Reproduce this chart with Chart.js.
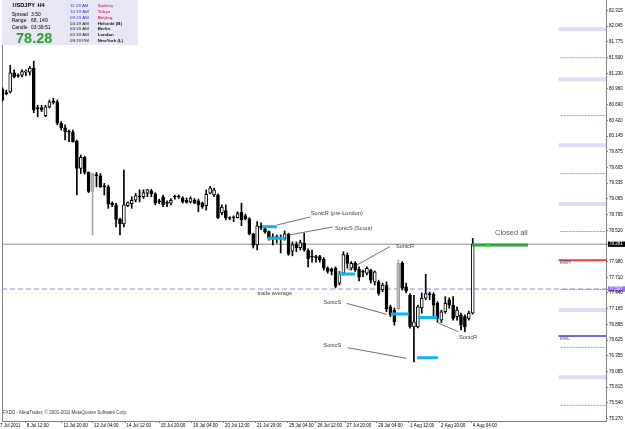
<!DOCTYPE html>
<html>
<head>
<meta charset="utf-8">
<script src="https://cdn.jsdelivr.net/npm/chart.js@4.4.1/dist/chart.umd.min.js"></script>
<style>
  html, body { margin: 0; padding: 0; background: #fff; }
  #wrap { width: 625px; height: 429px; position: relative; }
</style>
</head>
<body>
<div id="wrap"><canvas id="chart"></canvas></div>
<script>
// USDJPY H4 - bar index 0 = first visible candle

// x axis labels and the bar they sit on
const dateLabels = ['7 Jul 2011', '8 Jul 12:00', '11 Jul 20:00', '12 Jul 04:00', '14 Jul 12:00',
  '15 Jul 20:00', '19 Jul 04:00', '20 Jul 12:00', '21 Jul 20:00', '25 Jul 04:00', '26 Jul 12:00',
  '27 Jul 20:00', '29 Jul 04:00', '1 Aug 12:00', '2 Aug 20:00', '4 Aug 04:00'];
const dateBars = [-1, 5.8, 15.2, 23, 31.3, 40, 48.3, 56.4, 64.6, 72.8, 80, 87.5, 95.5, 103.6, 111.5, 119.6];

// price scale labels
const priceTicks = ['82.315', '82.045', '81.775', '81.500', '81.230', '80.960', '80.690', '80.420',
  '80.145', '79.875', '79.605', '79.335', '79.065', '78.795', '78.520', '78.281', '77.980', '77.710',
  '77.507', '77.440', '77.165', '76.895', '76.625', '76.355', '76.085', '75.815', '75.540', '75.270'];

const bidPrice = 78.281;
const avgPrice = 77.507;

// candles
const open = [
  80.96, 80.89, 80.91, 81.24, 81.19, 81.20, 81.25, 81.25, 81.32, 80.63,
  80.64, 80.50, 80.65, 80.74, 80.74, 80.37, 80.29, 80.225, 80.21, 80.06,
  79.59, 79.78, 79.52, 79.19, 79.475, 79.46, 79.28, 79.27, 78.99, 78.96,
  78.71, 78.63, 78.945, 78.98, 79.04, 79.10, 79.10, 79.16, 79.20, 79.15,
  79.02, 79.10, 78.99, 78.99, 79.10, 79.10, 79.08, 79.04, 79.01, 79.04,
  79.03, 78.99, 78.945, 79.16, 79.13, 79.13, 78.82, 78.86, 78.735, 78.745,
  78.74, 78.83, 78.77, 78.72, 78.46, 78.27, 78.60, 78.55, 78.50, 78.41,
  78.405, 78.40, 78.38, 78.45, 78.16, 78.28, 78.22, 78.30, 78.17, 78.07,
  78.06, 78.065, 78.02, 77.87, 77.85, 77.87, 77.61, 77.78, 78.09, 77.865,
  77.95, 77.85, 77.805, 77.78, 77.835, 77.63, 77.63, 77.49, 77.575, 77.20,
  77.145, 77.17, 77.95, 77.545, 77.40, 76.855, 76.855, 77.18, 77.35, 77.42,
  77.415, 77.26, 76.97, 77.115, 77.32, 77.23, 77.03, 77.06, 77.03, 77.00,
  77.09
];
const high = [
  80.98, 80.94, 81.37, 81.29, 81.22, 81.29, 81.29, 81.35, 81.44, 80.68,
  80.68, 80.68, 80.77, 80.80, 80.77, 80.40, 80.34, 80.25, 80.25, 80.08,
  79.82, 79.80, 79.53, 79.51, 79.52, 79.50, 79.33, 79.30, 79.01, 78.99,
  78.73, 79.56, 79.01, 79.10, 79.16, 79.22, 79.22, 79.23, 79.23, 79.17,
  79.06, 79.13, 79.03, 79.07, 79.13, 79.13, 79.10, 79.08, 79.10, 79.07,
  79.06, 79.01, 79.22, 79.28, 79.25, 79.15, 78.96, 78.96, 78.755, 78.77,
  78.84, 78.99, 78.80, 78.74, 78.47, 78.67, 78.65, 78.58, 78.51, 78.46,
  78.44, 78.44, 78.51, 78.47, 78.32, 78.32, 78.35, 78.47, 78.20, 78.18,
  78.09, 78.09, 78.05, 77.89, 77.87, 77.89, 77.81, 78.15, 78.13, 77.98,
  77.98, 77.89, 77.835, 77.89, 77.85, 77.82, 77.66, 77.61, 77.63, 77.23,
  77.18, 78.01, 77.98, 77.61, 77.43, 77.40, 77.23, 77.44, 77.76, 77.455,
  77.445, 77.29, 77.145, 77.375, 77.355, 77.375, 77.20, 77.09, 77.06, 77.125,
  78.38
];
const low = [
  80.75, 80.86, 80.89, 81.15, 81.16, 81.17, 81.19, 81.20, 80.55, 80.48,
  80.57, 80.48, 80.63, 80.70, 80.34, 80.25, 80.08, 80.05, 80.04, 79.13,
  79.50, 79.49, 79.17, 78.44, 79.27, 79.26, 79.13, 78.90, 78.93, 78.58,
  78.44, 78.58, 78.93, 78.90, 79.01, 79.01, 79.07, 79.10, 79.10, 78.96,
  78.98, 78.93, 78.93, 78.96, 79.06, 79.07, 78.99, 78.99, 78.99, 78.98,
  78.84, 78.90, 78.87, 79.15, 79.10, 78.72, 78.785, 78.70, 78.70, 78.67,
  78.73, 78.60, 78.70, 78.44, 78.215, 78.18, 78.53, 78.47, 78.35, 78.27,
  78.30, 78.13, 78.35, 78.09, 78.08, 78.15, 78.18, 78.16, 77.89, 77.97,
  77.97, 77.97, 77.835, 77.78, 77.75, 77.525, 77.575, 77.75, 77.865, 77.835,
  77.81, 77.645, 77.72, 77.75, 77.61, 77.575, 77.40, 77.46, 77.115, 77.03,
  76.885, 77.145, 77.49, 77.44, 76.83, 76.25, 76.835, 77.09, 77.32, 77.32,
  77.03, 76.94, 76.93, 77.09, 77.175, 76.97, 76.97, 76.80, 76.77, 76.97,
  77.075
];
const close = [
  80.77, 80.88, 81.24, 81.17, 81.18, 81.26, 81.26, 81.32, 80.60, 80.62,
  80.60, 80.65, 80.74, 80.73, 80.37, 80.29, 80.22, 80.215, 80.05, 79.59,
  79.78, 79.52, 79.19, 79.50, 79.465, 79.27, 79.27, 78.98, 78.96, 78.71,
  78.63, 78.96, 79.00, 79.04, 79.12, 79.095, 79.17, 79.22, 79.15, 78.99,
  79.01, 78.96, 78.985, 79.04, 79.095, 79.095, 79.01, 79.00, 79.07, 78.99,
  78.96, 78.93, 79.14, 79.25, 79.22, 78.74, 78.92, 78.74, 78.725, 78.735,
  78.81, 78.70, 78.72, 78.46, 78.26, 78.60, 78.56, 78.49, 78.38, 78.37,
  78.395, 78.37, 78.46, 78.11, 78.27, 78.22, 78.31, 78.18, 78.03, 78.06,
  78.05, 78.01, 77.87, 77.81, 77.81, 77.55, 77.78, 78.10, 77.95, 77.95,
  77.835, 77.71, 77.80, 77.865, 77.66, 77.805, 77.43, 77.575, 77.17, 77.06,
  76.94, 77.95, 77.52, 77.47, 76.86, 76.94, 77.20, 77.35, 77.43, 77.41,
  77.23, 77.00, 77.115, 77.26, 77.23, 77.00, 77.145, 76.885, 76.855, 77.09,
  78.28
];
const grayBars = [23, 101];

// levels on the right side
const pivotBlue = [81.99, 81.13, 79.99, 78.975, 77.145, 75.983];
const pivotGreen = [81.5, 80.5, 79.5, 78.5, 77.5, 76.5, 75.5];
const rwh = 78.005;
const rwl = 76.695;
const levelStart = 141.9;

// sonic entries: from bar, to bar, price
const sonicLevels = [
  [66.2, 70.0, 78.583], [67.7, 72.1, 78.383], [85.6, 89.95, 77.766],
  [99.1, 103.7, 77.077], [106.0, 110.9, 77.015], [105.8, 111.1, 76.321]
];
const closeLevel = [119.8, 134.1, 78.267];
const closeDot = [123.9, 78.267];

// pointer lines: bar1, price1, bar2, price2
const pointers = [
  [70.05, 78.612, 78.5, 78.750], [73.1, 78.440, 84.3, 78.578], [88.2, 77.835, 98.9, 78.241],
  [87.8, 77.260, 98.0, 77.071], [88.1, 76.494, 103.1, 76.311], [110.8, 76.932, 116.3, 76.770]
];

// text notes: text, bar, price
const notes = [
  ['SonicR (pre-London)', 78.7, 78.819], ['SonicS (Scout)', 84.85, 78.56], ['SonicR', 100.4, 78.241],
  ['SonicS', 81.9, 77.274], ['SonicS', 81.9, 76.532], ['SonicR', 116.5, 76.679],
  ['trade average', 65.1, 77.438]
];
const bigNote = ['Closed all', 125.7, 78.474];
const sideNotes = [['RWH', 142.2, 77.956], ['RWL', 142.2, 76.644]];

// info panel
const panelRows = [['Spread', '3.50'], ['Range', '68, 149'], ['Candle', '03:39:51']];
const zoneTimes = ['11:19 AM', '10:19 AM', '09:19 AM', '04:19 AM', '03:19 AM', '02:19 AM', '09:19 PM'];
const zoneNames = ['Sydney', 'Tokyo', 'Beijing', 'Helsinki (B)', 'Berlin', 'London', 'NewYork (L)'];

const X_MIN = -0.1, X_MAX = 154;
const Y_MIN = 75.229, Y_MAX = 82.496;
const FONT = '"Liberation Sans", Arial, sans-serif';

function seg(x1, y1, x2, y2, color, width, dash, order) {
  return {
    type: 'line',
    data: [{ x: x1, y: y1 }, { x: x2, y: y2 }],
    borderColor: color,
    borderWidth: width,
    borderDash: dash || [],
    pointRadius: 0,
    fill: false,
    order: order,
    yAxisID: 'y'
  };
}

const bars = open.map((o, i) => i);
const isUp = i => close[i] >= open[i];

const datasets = [];

// bodies
datasets.push({
  type: 'bar',
  data: bars.map(i => ({ x: i, y: [open[i], close[i]] })),
  backgroundColor: bars.map(i => grayBars.includes(i) ? '#bdbdbd' : (isUp(i) ? '#ffffff' : '#000000')),
  borderColor: bars.map(i => grayBars.includes(i) ? '#9a9a9a' : '#000000'),
  borderWidth: 1,
  borderSkipped: false,
  barThickness: 3,
  minBarLength: 1,
  grouped: false,
  order: 1,
  yAxisID: 'y'
});
// wicks
datasets.push({
  type: 'bar',
  data: bars.map(i => ({ x: i, y: [low[i], high[i]] })),
  backgroundColor: bars.map(i => grayBars.includes(i) ? '#a8a8a8' : '#000000'),
  borderWidth: 0,
  barThickness: 1,
  grouped: false,
  order: 2,
  yAxisID: 'y'
});

// bid and trade average
datasets.push(seg(X_MIN, bidPrice, X_MAX, bidPrice, '#8a8a8a', 1, [], 3));
datasets.push(seg(X_MIN, avgPrice, X_MAX, avgPrice, '#a07ce8', 1, [5, 3], 3));

// right side levels
pivotBlue.forEach(p => datasets.push(seg(levelStart, p, X_MAX, p, '#dcdcf4', 4, [], 4)));
pivotGreen.forEach(p => datasets.push(seg(levelStart + 0.5, p, X_MAX, p, '#4fd04f', 1, [2, 1], 4)));
datasets.push(seg(levelStart, rwh, X_MAX, rwh, '#ef3b3b', 2, [], 3));
datasets.push(seg(levelStart, rwl, X_MAX, rwl, '#6a6ae6', 2, [], 3));

// sonic entries, pointers, close
sonicLevels.forEach(s => datasets.push(seg(s[0], s[2], s[1], s[2], '#12b4f0', 3, [], 0)));
pointers.forEach(p => datasets.push(seg(p[0], p[1], p[2], p[3], '#4a4a4a', 0.8, [], 0)));
datasets.push(seg(closeLevel[0], closeLevel[2], closeLevel[1], closeLevel[2], '#2fa33a', 3, [], 0));
datasets.push({
  type: 'line',
  data: [{ x: closeDot[0], y: closeDot[1] }],
  showLine: false,
  pointRadius: 2,
  pointBackgroundColor: '#1ee01e',
  pointBorderWidth: 0,
  order: -1,
  yAxisID: 'y'
});

const special = v => Math.abs(v - bidPrice) < 1e-6 ? 'bid' : (Math.abs(v - avgPrice) < 1e-6 ? 'avg' : '');

// text on the chart
const notesPlugin = {
  id: 'notes',
  afterDatasetsDraw(chart) {
    const { ctx, scales: { x, y } } = chart;
    ctx.save();
    ctx.textBaseline = 'middle';
    ctx.textAlign = 'left';
    ctx.font = '5.6px ' + FONT;
    ctx.fillStyle = '#3a3a3a';
    notes.forEach(n => ctx.fillText(n[0], x.getPixelForValue(n[1]), y.getPixelForValue(n[2])));
    ctx.font = '7.4px ' + FONT;
    ctx.fillStyle = '#555555';
    ctx.fillText(bigNote[0], x.getPixelForValue(bigNote[1]), y.getPixelForValue(bigNote[2]));
    ctx.font = '4.6px ' + FONT;
    ctx.fillStyle = '#4a4a86';
    sideNotes.forEach(n => ctx.fillText(n[0], x.getPixelForValue(n[1]), y.getPixelForValue(n[2])));
    ctx.restore();
  }
};

// info box top left + copyright
const panelPlugin = {
  id: 'panel',
  afterDraw(chart) {
    const ctx = chart.ctx;
    ctx.save();
    ctx.fillStyle = '#e7e7f6';
    ctx.fillRect(2, 0, 136, 45);
    ctx.textBaseline = 'middle';
    ctx.textAlign = 'left';
    ctx.fillStyle = '#000';
    ctx.font = 'bold 5.6px ' + FONT;
    ctx.fillText('USDJPY', 12.5, 5.8);
    ctx.fillText('H4', 37.5, 5.8);
    ctx.font = '5px ' + FONT;
    panelRows.forEach((r, k) => {
      ctx.fillText(r[0], 11.7, 14.3 + k * 6.8);
      ctx.fillText(r[1], 31, 14.3 + k * 6.8);
    });
    ctx.font = 'bold 14.5px ' + FONT;
    ctx.fillStyle = '#2f9d2f';
    ctx.fillText('78.28', 16, 38.5);
    zoneTimes.forEach((t, k) => {
      const yy = 5.8 + k * 5.85;
      ctx.font = '4.4px ' + FONT;
      ctx.fillStyle = k < 3 ? '#3030d0' : '#111';
      ctx.fillText(t, 70, yy);
      ctx.font = 'bold 4.4px ' + FONT;
      ctx.fillStyle = k < 3 ? '#e83368' : '#111';
      ctx.fillText(zoneNames[k], 97.7, yy);
    });
    ctx.font = '4.5px ' + FONT;
    ctx.fillStyle = '#333';
    ctx.fillText('FXDD - MetaTrader, \u00a9 2001-2011 MetaQuotes Software Corp.', 3, 412.5);
    ctx.restore();
  }
};

new Chart(document.getElementById('chart'), {
  type: 'bar',
  data: { datasets: datasets },
  options: {
    responsive: true,
    maintainAspectRatio: false,
    animation: false,
    devicePixelRatio: 1,
    layout: { padding: 0, autoPadding: false },
    plugins: { legend: { display: false }, tooltip: { enabled: false } },
    scales: {
      x: {
        type: 'linear',
        min: X_MIN,
        max: X_MAX,
        offset: false,
        grid: { drawOnChartArea: false, drawTicks: true, tickLength: 2, color: '#808080', offset: false },
        border: { display: true, color: '#808080' },
        ticks: {
          font: { size: 4.5, family: FONT },
          color: '#000',
          align: 'start',
          labelOffset: 1.5,
          maxRotation: 0,
          autoSkip: false,
          padding: 0,
          callback: (v, idx) => dateLabels[idx]
        },
        afterBuildTicks: s => { s.ticks = dateBars.map(v => ({ value: v })); },
        afterFit: s => { s.height = 8; s.paddingLeft = 0; s.paddingRight = 0; }
      },
      y: {
        type: 'linear',
        position: 'right',
        min: Y_MIN,
        max: Y_MAX,
        grid: { drawOnChartArea: false, drawTicks: true, tickLength: 2, color: '#808080' },
        border: { display: true, color: '#808080' },
        ticks: {
          font: { size: 4.5, family: FONT },
          autoSkip: false,
          padding: 1,
          color: ctx => special(ctx.tick.value) ? '#fff' : '#000',
          showLabelBackdrop: ctx => special(ctx.tick.value) !== '',
          backdropColor: ctx => special(ctx.tick.value) === 'bid' ? '#000' : '#9b6bf0',
          backdropPadding: { top: 0, bottom: 0, left: 1, right: 3 },
          callback: (v, idx) => priceTicks[idx]
        },
        afterBuildTicks: s => { s.ticks = priceTicks.map(t => ({ value: Number(t) })); },
        afterFit: s => { s.width = 19; s.paddingTop = 0; s.paddingBottom = 0; }
      },
      yl: {
        type: 'linear',
        position: 'left',
        grid: { drawOnChartArea: false, drawTicks: false },
        border: { display: true, color: '#808080' },
        ticks: { display: false },
        afterFit: s => { s.width = 2; s.paddingTop = 0; s.paddingBottom = 0; }
      }
    }
  },
  plugins: [notesPlugin, panelPlugin]
});
</script>
</body>
</html>
